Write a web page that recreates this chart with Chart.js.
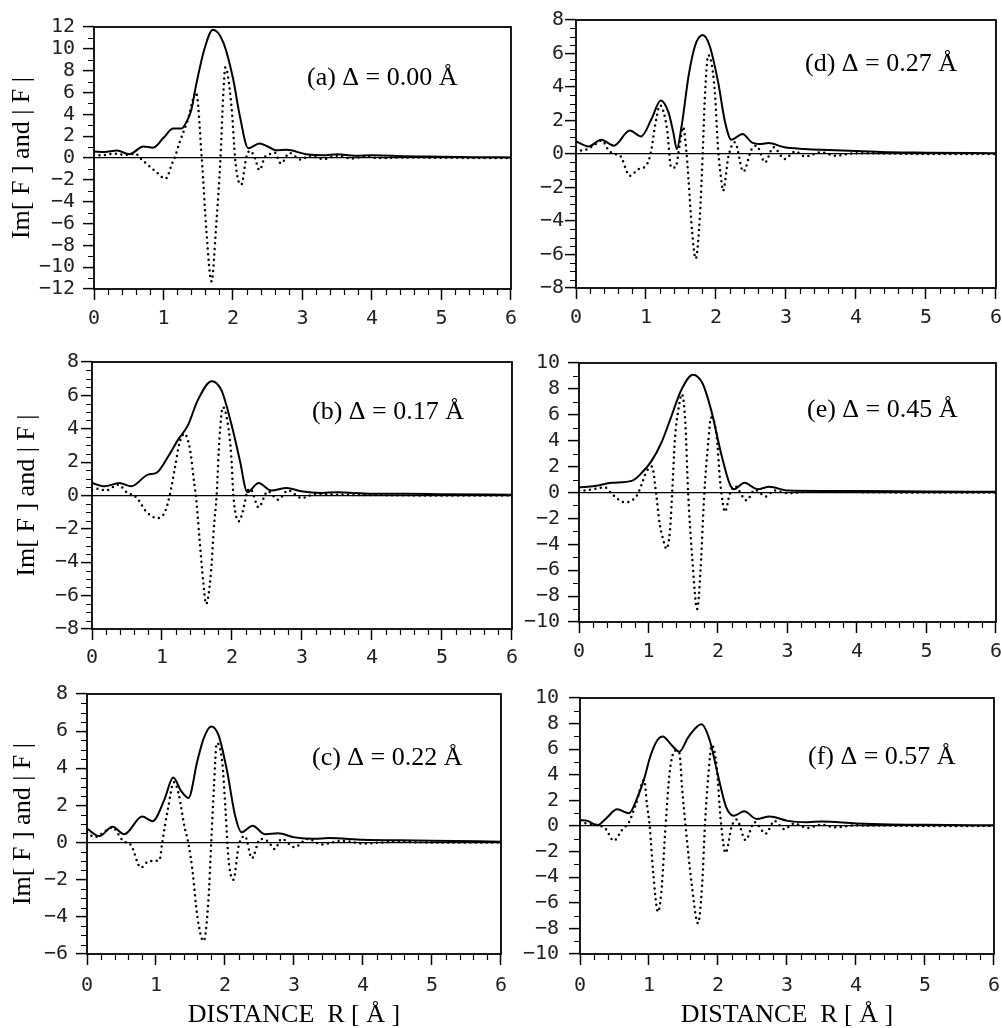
<!DOCTYPE html>
<html>
<head>
<meta charset="utf-8">
<script src="https://cdn.jsdelivr.net/npm/chart.js@4.4.0/dist/chart.umd.min.js"></script>
<style>
  html, body { margin: 0; padding: 0; background: #fff; }
  #wrap { position: relative; width: 1002px; height: 1028px; overflow: hidden; }
  canvas { position: absolute; }
</style>
</head>
<body>
<div id="wrap"></div>
<script>
// |F| (solid) and Im[F] (dotted) for each panel

// (a) delta = 0.00
let rAbsA = [0, 0.15, 0.33, 0.51, 0.71, 0.85, 1.0, 1.14, 1.26, 1.33, 1.4, 1.47, 1.59, 1.71, 1.86, 2.0, 2.1, 2.22, 2.38, 2.5, 2.62, 2.77, 3.05, 3.3, 3.5, 3.75, 4.0, 4.5, 5.0, 5.5, 6.0];
let absA = [0.6, 0.55, 0.68, 0.35, 1.05, 0.95, 1.85, 2.7, 2.7, 3.3, 4.4, 6.7, 10.0, 11.75, 10.6, 7.3, 3.8, 0.9, 1.33, 1.05, 0.7, 0.75, 0.35, 0.25, 0.35, 0.2, 0.25, 0.15, 0.12, 0.08, 0.05];
let rImA = [0, 0.1, 0.3, 0.45, 0.6, 0.66, 0.75, 0.9, 1.03, 1.13, 1.16, 1.23, 1.35, 1.47, 1.55, 1.62, 1.69, 1.76, 1.82, 1.86, 1.89, 1.98, 2.03, 2.07, 2.12, 2.19, 2.24, 2.31, 2.38, 2.46, 2.53, 2.6, 2.69, 2.81, 2.98, 3.1, 3.3, 3.5, 3.7, 3.9, 4.1, 4.5, 5.0, 6.0];
let imA = [0.3, 0.25, 0.4, 0.3, 0.4, 0, -0.5, -1.3, -1.9, -0.4, 0, 1.4, 3.5, 6.0, 0, -6.9, -11.3, -6.0, 0, 5.8, 8.3, 4.6, 0, -1.9, -2.45, 0, 0.65, 0.1, -1.1, 0.1, 0.35, 0.5, -0.5, 0.45, -0.15, 0.2, -0.1, 0.2, -0.05, 0.15, 0, 0.05, 0.02, 0];

// (b) delta = 0.17
let rAbsB = [0, 0.18, 0.39, 0.56, 0.8, 0.92, 1.09, 1.23, 1.37, 1.51, 1.71, 1.85, 1.99, 2.11, 2.22, 2.38, 2.56, 2.78, 2.99, 3.28, 3.5, 4.0, 4.5, 5.0, 6.0];
let absB = [0.75, 0.55, 0.75, 0.55, 1.25, 1.35, 2.35, 3.35, 4.2, 5.7, 6.85, 6.3, 4.3, 2.15, 0.2, 0.75, 0.3, 0.45, 0.25, 0.15, 0.2, 0.1, 0.1, 0.08, 0.05];
let rImB = [0, 0.09, 0.2, 0.37, 0.51, 0.6, 0.66, 0.78, 0.94, 1.04, 1.11, 1.18, 1.25, 1.32, 1.4, 1.46, 1.49, 1.54, 1.59, 1.63, 1.7, 1.74, 1.78, 1.82, 1.87, 1.94, 1.99, 2.02, 2.06, 2.1, 2.16, 2.22, 2.26, 2.38, 2.51, 2.66, 2.8, 2.99, 3.2, 3.5, 4.0, 5.0, 6.0];
let imB = [0.35, 0.4, 0.3, 0.65, 0.15, 0, -0.25, -1.0, -1.35, -1.0, 0, 1.55, 3.15, 3.7, 2.75, 0.75, -0.25, -2.8, -5.2, -6.5, -4.6, -2.0, 0, 3.35, 5.3, 4.3, 2.35, 0, -1.25, -1.55, -0.85, 0.25, 0.4, -0.7, 0.25, -0.25, 0.3, -0.15, 0.1, 0.05, 0.03, 0, 0];

// (c) delta = 0.22
let rAbsC = [0, 0.18, 0.37, 0.54, 0.8, 0.95, 1.12, 1.25, 1.36, 1.47, 1.6, 1.69, 1.8, 1.91, 2.03, 2.15, 2.24, 2.4, 2.58, 2.77, 3.01, 3.3, 3.5, 4.0, 4.5, 5.0, 6.0];
let absC = [0.75, 0.35, 0.85, 0.45, 1.4, 1.15, 2.3, 3.5, 2.8, 2.4, 4.4, 5.6, 6.25, 5.75, 3.85, 1.4, 0.55, 0.9, 0.45, 0.5, 0.28, 0.2, 0.25, 0.15, 0.12, 0.1, 0.05];
let rImC = [0, 0.11, 0.37, 0.52, 0.64, 0.78, 0.9, 1.05, 1.09, 1.17, 1.26, 1.33, 1.41, 1.47, 1.53, 1.6, 1.69, 1.76, 1.8, 1.84, 1.88, 1.96, 2.01, 2.05, 2.12, 2.2, 2.29, 2.39, 2.51, 2.63, 2.72, 2.82, 3.01, 3.2, 3.4, 3.7, 4.0, 4.5, 5.0, 6.0];
let imC = [0.55, 0.3, 0.8, 0.1, -0.15, -1.35, -1.0, -0.95, 0, 1.75, 3.25, 2.6, 0.9, -0.05, -1.55, -4.0, -5.3, -3.1, 0, 3.0, 5.35, 4.35, 1.6, -0.85, -2.0, -0.15, 0.35, -0.85, 0.2, 0.05, -0.35, 0.2, -0.25, 0.2, -0.1, 0.1, -0.05, 0.05, 0, 0];

// (d) delta = 0.27
let rAbsD = [0, 0.18, 0.36, 0.54, 0.77, 0.93, 1.08, 1.21, 1.32, 1.39, 1.44, 1.51, 1.61, 1.7, 1.81, 1.91, 2.03, 2.13, 2.22, 2.38, 2.51, 2.65, 2.75, 2.98, 3.27, 3.5, 4.0, 4.5, 5.0, 6.0];
let absD = [0.75, 0.45, 0.85, 0.5, 1.4, 1.05, 2.1, 3.2, 2.5, 1.3, 0.3, 1.7, 4.7, 6.45, 7.1, 6.45, 4.3, 1.9, 0.85, 1.2, 0.7, 0.6, 0.65, 0.4, 0.3, 0.25, 0.18, 0.1, 0.08, 0.05];
let rImD = [0, 0.09, 0.23, 0.37, 0.47, 0.55, 0.63, 0.77, 0.89, 1.0, 1.07, 1.13, 1.2, 1.3, 1.36, 1.42, 1.48, 1.53, 1.58, 1.61, 1.66, 1.71, 1.77, 1.81, 1.84, 1.89, 1.98, 2.03, 2.08, 2.1, 2.18, 2.27, 2.39, 2.51, 2.58, 2.7, 2.82, 2.98, 3.13, 3.27, 3.5, 3.7, 4.0, 4.5, 5.0, 6.0];
let imD = [0.35, 0.2, 0.45, 0.8, 0.2, 0, -0.1, -1.3, -0.9, -0.7, 0.1, 1.7, 2.9, 1.5, -0.8, -0.8, 0.5, 1.6, 0, -1.7, -4.7, -6.25, -3.7, 0, 3.3, 5.9, 3.9, 0.3, -1.7, -2.2, -0.1, 0.7, -1.05, 0.3, 0.5, -0.5, 0.4, -0.3, 0.15, -0.15, 0.1, -0.1, 0.05, 0.03, 0, 0];

// (e) delta = 0.45
let rAbsE = [0, 0.23, 0.47, 0.76, 0.9, 1.04, 1.19, 1.33, 1.47, 1.64, 1.78, 1.9, 2.05, 2.17, 2.23, 2.38, 2.57, 2.74, 3.0, 3.5, 4.0, 5.0, 6.0];
let absE = [0.4, 0.5, 0.75, 0.9, 1.5, 2.4, 3.9, 5.9, 7.9, 9.1, 8.4, 6.4, 2.9, 0.65, 0.25, 0.75, 0.25, 0.45, 0.15, 0.12, 0.12, 0.08, 0.05];
let rImE = [0, 0.06, 0.2, 0.37, 0.47, 0.66, 0.83, 0.9, 0.97, 1.05, 1.11, 1.16, 1.21, 1.26, 1.31, 1.34, 1.38, 1.43, 1.48, 1.53, 1.57, 1.63, 1.7, 1.75, 1.8, 1.86, 1.9, 1.98, 2.03, 2.07, 2.1, 2.17, 2.24, 2.41, 2.53, 2.69, 2.81, 3.0, 3.3, 3.6, 4.0, 5.0, 6.0];
let imE = [0.15, 0.15, 0.25, 0.4, -0.1, -0.75, -0.25, 0.6, 1.6, 2.0, -0.1, -2.4, -3.6, -4.35, -2.85, -0.1, 4.1, 6.4, 7.6, 5.4, 0, -5.1, -9.0, -5.85, -0.35, 3.9, 5.8, 4.4, 0.9, -0.85, -1.5, -0.1, 0.5, -0.6, 0.2, -0.3, 0.15, -0.05, 0.05, 0.05, 0.03, 0, 0];

// (f) delta = 0.57
let rAbsF = [0, 0.11, 0.25, 0.37, 0.54, 0.71, 0.83, 0.93, 1.02, 1.12, 1.2, 1.33, 1.44, 1.57, 1.76, 1.88, 2.0, 2.12, 2.23, 2.38, 2.56, 2.75, 3.01, 3.3, 3.5, 4.0, 4.5, 5.0, 6.0];
let absF = [0.45, 0.4, 0.05, 0.55, 1.3, 1.0, 2.2, 3.7, 5.45, 6.7, 7.0, 6.3, 5.8, 6.95, 7.95, 6.7, 3.95, 1.45, 0.8, 1.15, 0.55, 0.75, 0.4, 0.3, 0.35, 0.2, 0.12, 0.1, 0.05];
let rImF = [0, 0.09, 0.23, 0.3, 0.37, 0.49, 0.61, 0.71, 0.81, 0.93, 0.97, 1.01, 1.06, 1.13, 1.18, 1.24, 1.3, 1.38, 1.44, 1.48, 1.53, 1.62, 1.71, 1.77, 1.81, 1.86, 1.91, 1.98, 2.04, 2.11, 2.2, 2.27, 2.4, 2.53, 2.69, 2.82, 2.96, 3.1, 3.3, 3.5, 3.7, 4.0, 4.5, 5.0, 6.0];
let imF = [0.3, 0.2, 0.1, 0, -0.2, -1.15, -0.3, 0.3, 1.7, 3.6, 1.7, 0, -3.6, -6.7, -5.1, 0, 4.2, 5.9, 5.7, 2.95, 0, -4.6, -7.6, -4.6, 0, 3.95, 6.3, 4.7, 0.4, -2.1, 0, 0.5, -1.1, 0.3, -0.6, 0.4, -0.25, 0.2, -0.15, 0.1, -0.1, 0.05, 0.03, 0, 0];

let panelLabels = ['(a) \u0394 = 0.00 \u00c5', '(b) \u0394 = 0.17 \u00c5', '(c) \u0394 = 0.22 \u00c5',
                   '(d) \u0394 = 0.27 \u00c5', '(e) \u0394 = 0.45 \u00c5', '(f) \u0394 = 0.57 \u00c5'];
let yTitle = 'Im[ F ] and | F |';
let xTitle = 'DISTANCE  R [ \u00c5 ]';

// layout of the six plot frames on the page
let panels = [
  {label: panelLabels[0], absR: rAbsA, abs: absA, imR: rImA, im: imA, yMin: -12, yMax: 12, yMinor: 1,
   left: 94, right: 512, top: 19, bottom: 289, cLeft: 0, yT: true, tPad: 7, yPad: 8, xPad: 7, xT: false, tx: 213, ty: 51},
  {label: panelLabels[1], absR: rAbsB, abs: absB, imR: rImB, im: imB, yMin: -8, yMax: 8, yMinor: 0.5,
   left: 92, right: 512, top: 360, bottom: 629, cLeft: 0, yT: true, tPad: 12, yPad: 2, xPad: 6, xT: false, tx: 220, ty: 50},
  {label: panelLabels[2], absR: rAbsC, abs: absC, imR: rImC, im: imC, yMin: -6, yMax: 8, yMinor: 0.5,
   left: 87, right: 504, top: 686, bottom: 954, cLeft: 0, yT: true, tPad: 8, yPad: 8, xPad: 9, xT: true, tx: 225, ty: 64},
  {label: panelLabels[3], absR: rAbsD, abs: absD, imR: rImD, im: imD, yMin: -8, yMax: 8, yMinor: 0.5,
   left: 576, right: 997, top: 19, bottom: 288, cLeft: 516, yT: false, tPad: 0, yPad: 1, xPad: 7, xT: false, tx: 229, ty: 44},
  {label: panelLabels[4], absR: rAbsE, abs: absE, imR: rImE, im: imE, yMin: -10, yMax: 10, yMinor: 1,
   left: 579, right: 997, top: 355, bottom: 622, cLeft: 516, yT: false, tPad: 0, yPad: 8, xPad: 7, xT: false, tx: 228, ty: 47},
  {label: panelLabels[5], absR: rAbsF, abs: absF, imR: rImF, im: imF, yMin: -10, yMax: 10, yMinor: 1,
   left: 580, right: 997, top: 688, bottom: 954, cLeft: 516, yT: false, tPad: 0, yPad: 10, xPad: 9, xT: true, tx: 228, ty: 59}
];

let wrap = document.getElementById('wrap');
let monoFont = '"DejaVu Sans Mono", "Liberation Mono", monospace';
let serifFont = '"Liberation Serif", "DejaVu Serif", serif';

function fmt(v) {
  return v < 0 ? '\u2212' + Math.abs(v) : String(v);
}

function pts(xs, ys) {
  return xs.map((x, i) => ({x: x, y: ys[i]}));
}

function makePanel(p) {
  let padTop = 12, padRight = 12;
  let xH = p.xT ? 1028 - p.bottom : 45;
  let cTop = p.top - padTop;
  let w = p.right + padRight - p.cLeft;
  let h = p.bottom + xH - cTop;

  let canvas = document.createElement('canvas');
  canvas.width = w;
  canvas.height = h;
  canvas.style.left = p.cLeft + 'px';
  canvas.style.top = cTop + 'px';
  canvas.style.width = w + 'px';
  canvas.style.height = h + 'px';
  wrap.appendChild(canvas);

  // frame, minor ticks and panel caption
  let frame = {
    id: 'frame',
    afterDraw(chart) {
      let ctx = chart.ctx;
      let a = chart.chartArea;
      let sx = chart.scales.x, sy = chart.scales.y;
      ctx.save();
      ctx.strokeStyle = '#000';
      ctx.lineWidth = 1.2;
      ctx.beginPath();
      for (let i = 1; i < 30; i++) {
        if (i % 5 === 0) continue;
        let px = Math.round(sx.getPixelForValue(i * 0.2)) + 0.5;
        ctx.moveTo(px, a.bottom);
        ctx.lineTo(px, a.bottom + 6);
      }
      let n = Math.round((p.yMax - p.yMin) / p.yMinor);
      for (let i = 1; i < n; i++) {
        let v = p.yMin + i * p.yMinor;
        if (Math.abs(v / 2 - Math.round(v / 2)) < 1e-6) continue;
        let py = Math.round(sy.getPixelForValue(v)) + 0.5;
        ctx.moveTo(a.left - 6, py);
        ctx.lineTo(a.left, py);
      }
      ctx.stroke();
      ctx.lineWidth = 1.8;
      ctx.strokeRect(a.left, a.top, a.right - a.left, a.bottom - a.top);
      ctx.fillStyle = '#000';
      ctx.font = '26px ' + serifFont;
      ctx.textBaseline = 'middle';
      ctx.textAlign = 'left';
      ctx.fillText(p.label, a.left + p.tx, a.top + p.ty);
      ctx.restore();
    }
  };

  return new Chart(canvas, {
    type: 'line',
    data: {
      datasets: [
        {
          label: '|F|',
          data: pts(p.absR, p.abs),
          borderColor: '#000',
          borderWidth: 2,
          pointRadius: 0,
          cubicInterpolationMode: 'monotone',
          fill: false
        },
        {
          label: 'Im[F]',
          data: pts(p.imR, p.im),
          borderColor: '#000',
          borderWidth: 2.5,
          borderDash: [0, 5.5],
          borderCapStyle: 'round',
          pointRadius: 0,
          cubicInterpolationMode: 'monotone',
          fill: false
        }
      ]
    },
    options: {
      responsive: false,
      animation: false,
      devicePixelRatio: 1,
      layout: {padding: {left: 0, top: padTop, right: padRight, bottom: 0}},
      plugins: {legend: {display: false}, tooltip: {enabled: false}},
      scales: {
        x: {
          type: 'linear',
          min: 0,
          max: 6,
          afterFit: (s) => { s.height = xH; },
          ticks: {
            stepSize: 1,
            autoSkip: false,
            padding: p.xPad,
            color: '#222',
            maxRotation: 0,
            font: {family: monoFont, size: 20},
            callback: (v) => fmt(v)
          },
          grid: {drawOnChartArea: false, tickLength: 11, tickWidth: 1.5, tickColor: '#000'},
          border: {display: false},
          title: {
            display: p.xT,
            text: xTitle,
            color: '#000',
            font: {family: serifFont, size: 26, lineHeight: 1},
            padding: {top: 0, bottom: 0}
          }
        },
        y: {
          type: 'linear',
          min: p.yMin,
          max: p.yMax,
          afterFit: (s) => { s.width = p.left - p.cLeft; },
          ticks: {
            stepSize: 2,
            autoSkip: false,
            padding: p.yPad,
            color: '#222',
            font: {family: monoFont, size: 20},
            callback: (v) => fmt(v)
          },
          grid: {
            drawOnChartArea: true,
            color: (c) => (c.tick && c.tick.value === 0 ? '#000' : 'rgba(0,0,0,0)'),
            lineWidth: 1.2,
            tickLength: 11,
            tickWidth: 1.5,
            tickColor: '#000'
          },
          border: {display: false},
          title: {
            display: p.yT,
            text: yTitle,
            color: '#000',
            font: {family: serifFont, size: 26},
            padding: {top: p.tPad, bottom: 0}
          }
        }
      }
    },
    plugins: [frame]
  });
}

panels.forEach(makePanel);
</script>
</body>
</html>
